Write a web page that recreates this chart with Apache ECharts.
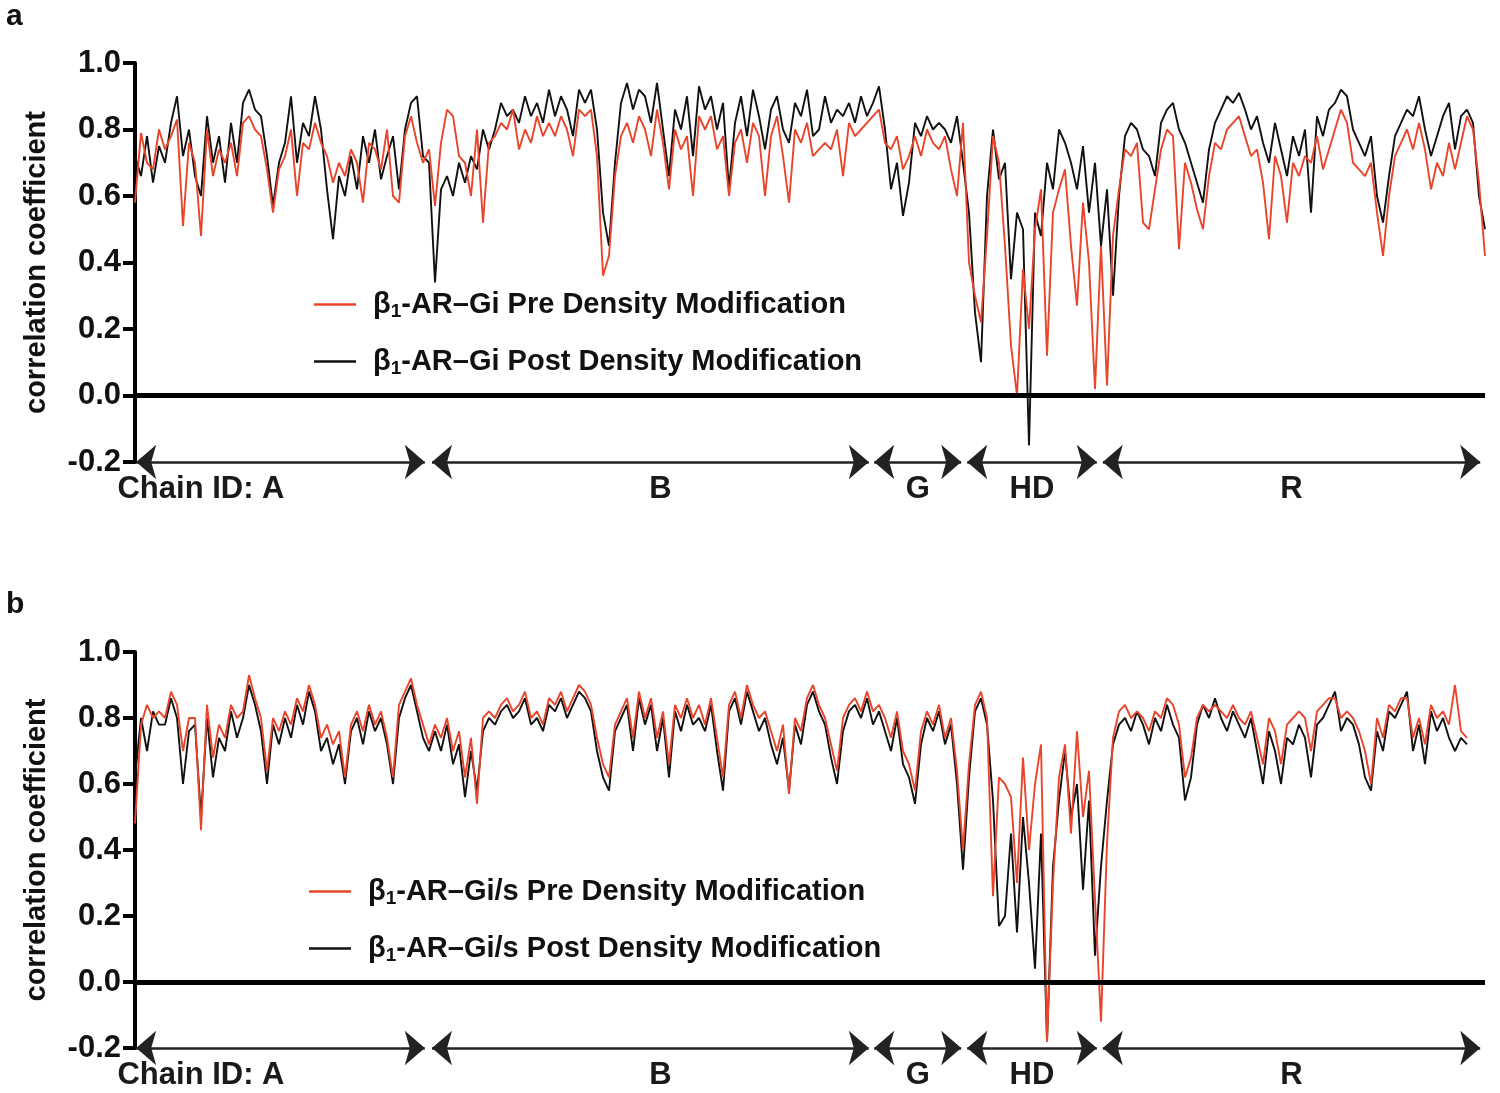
<!DOCTYPE html>
<html><head><meta charset="utf-8">
<script src="https://cdn.jsdelivr.net/npm/echarts@6/dist/echarts.min.js"></script>
<style>html,body{margin:0;padding:0;background:#fff}#c{width:1500px;height:1093px}</style>
</head><body><div id="c"></div>
<script>
// ---- data (residue index, sampled) ----
const seriesNamesA = ['β1-AR–Gi Pre Density Modification', 'β1-AR–Gi Post Density Modification'];
const seriesNamesB = ['β1-AR–Gi/s Pre Density Modification', 'β1-AR–Gi/s Post Density Modification'];

const preA = [
.58,.79,.70,.68,.80, .74,.78,.83,.51,.76, .70,.48,.80,.66,.74, .70,.76,.66,.82,.84,
.80,.78,.68,.55,.68, .72,.80,.60,.76,.74, .82,.76,.72,.64,.70, .66,.74,.70,.58,.76,
.74,.68,.80,.60,.58, .78,.84,.76,.70,.74, .57,.76,.86,.84,.72, .70,.60,.80,.52,.76,
.78,.82,.80,.86,.74, .80,.76,.84,.78,.82, .78,.84,.80,.72,.86, .84,.86,.72,.36,.42,
.66,.78,.82,.76,.84, .80,.72,.86,.76,.62, .80,.74,.78,.60,.84, .80,.84,.74,.78,.60,
.76,.80,.70,.82,.78, .60,.78,.84,.72,.58, .80,.76,.82,.72,.74, .76,.74,.80,.66,.82,
.78,.80,.82,.84,.86, .76,.74,.78,.68,.72, .78,.72,.80,.76,.74, .78,.68,.60,.82,.40,
.30,.22,.48,.78,.70, .45,.15,.00,.38,.20, .50,.62,.12,.55,.62, .68,.45,.27,.58,.40,
.02,.45,.03,.48,.62, .74,.72,.76,.52,.50, .62,.74,.80,.78,.44, .70,.64,.56,.50,.66,
.76,.74,.80,.82,.84, .78,.72,.74,.64,.47, .72,.66,.52,.70,.66, .72,.70,.78,.68,.74,
.80,.86,.82,.70,.68, .66,.70,.55,.42,.60, .72,.76,.80,.74,.82, .74,.62,.70,.66,.76,
.68,.76,.84,.80,.64, .42];

const postA = [
.72,.66,.78,.64,.75, .70,.82,.90,.72,.80, .66,.60,.84,.70,.78, .64,.82,.70,.88,.92,
.86,.84,.72,.57,.70, .76,.90,.70,.82,.78, .90,.80,.62,.47,.66, .60,.72,.62,.78,.70,
.80,.65,.72,.78,.62, .80,.88,.90,.72,.70, .34,.62,.66,.60,.70, .64,.72,.68,.80,.74,
.80,.88,.84,.86,.82, .90,.84,.88,.82,.92, .84,.90,.86,.78,.92, .88,.92,.80,.55,.45,
.70,.88,.94,.86,.92, .90,.82,.94,.80,.66, .86,.80,.90,.72,.93, .86,.90,.80,.88,.62,
.82,.90,.78,.92,.84, .74,.86,.90,.80,.76, .88,.84,.92,.78,.80, .90,.82,.86,.84,.88,
.82,.90,.84,.88,.93, .80,.62,.70,.54,.64, .82,.78,.84,.80,.82, .80,.76,.84,.70,.55,
.25,.10,.60,.80,.65, .70,.35,.55,.50,-.15, .55,.48,.70,.62,.80, .76,.70,.62,.75,.55,
.70,.45,.62,.30,.60, .78,.82,.80,.74,.72, .66,.82,.86,.88,.80, .76,.70,.64,.58,.74,
.82,.86,.90,.88,.91, .86,.80,.84,.76,.70, .82,.74,.66,.78,.72, .80,.55,.84,.78,.86,
.88,.92,.90,.80,.76, .72,.78,.60,.52,.66, .78,.82,.86,.84,.90, .80,.72,.78,.84,.88,
.74,.84,.86,.82,.60, .50];

const preB = [
.48,.78,.84,.80,.82, .80,.88,.84,.70,.80, .80,.46,.84,.68,.78, .74,.84,.80,.82,.93,
.86,.80,.64,.80,.76, .82,.78,.86,.82,.90, .84,.74,.78,.72,.76, .62,.78,.82,.76,.84,
.78,.82,.74,.62,.84, .88,.92,.84,.78,.72, .78,.74,.80,.70,.76, .62,.74,.54,.80,.82,
.80,.84,.86,.82,.84, .88,.80,.82,.78,.86, .84,.88,.82,.86,.90, .88,.84,.74,.66,.62,
.78,.82,.86,.74,.88, .80,.86,.74,.82,.66, .84,.80,.86,.80,.84, .78,.86,.74,.62,.84,
.88,.80,.90,.84,.80, .82,.76,.70,.78,.57, .80,.76,.86,.90,.84, .80,.72,.64,.80,.84,
.86,.82,.88,.82,.84, .80,.74,.82,.70,.66, .58,.76,.82,.78,.84, .74,.80,.64,.40,.66,
.84,.88,.80,.26,.62, .60,.56,.30,.68,.40, .60,.72,-.18,.30,.62, .72,.45,.76,.50,.64,
.25,-.12,.42,.74,.82, .84,.80,.82,.80,.76, .82,.80,.86,.84,.78, .62,.68,.80,.84,.82,
.84,.82,.80,.84,.80, .78,.82,.74,.66,.80, .76,.66,.78,.80,.82, .80,.70,.82,.84,.86,
.86,.80,.82,.80,.76, .70,.60,.80,.74,.84, .82,.86,.86,.74,.80, .72,.84,.80,.82,.78,
.90,.76,.74];

const postB = [
.62,.80,.70,.82,.78, .78,.86,.80,.60,.76, .78,.50,.80,.62,.74, .70,.82,.74,.80,.90,
.84,.76,.60,.78,.72, .80,.74,.84,.78,.88, .82,.70,.74,.66,.72, .60,.76,.80,.72,.82,
.76,.80,.72,.60,.80, .86,.90,.82,.74,.70, .76,.70,.78,.66,.72, .56,.70,.58,.76,.80,
.78,.82,.84,.80,.82, .86,.78,.80,.76,.84, .82,.86,.80,.84,.88, .86,.82,.70,.62,.58,
.76,.80,.84,.70,.86, .78,.84,.70,.80,.62, .82,.76,.84,.78,.80, .76,.84,.70,.58,.82,
.86,.78,.88,.82,.76, .80,.72,.66,.74,.58, .78,.72,.84,.88,.82, .78,.68,.60,.76,.82,
.84,.80,.86,.78,.82, .76,.70,.80,.66,.62, .54,.72,.80,.76,.82, .72,.78,.60,.34,.62,
.82,.86,.78,.55,.17, .20,.45,.15,.50,.30, .04,.45,-.18,.35,.55, .70,.50,.60,.28,.55,
.08,.35,.55,.72,.78, .80,.76,.82,.78,.72, .80,.76,.84,.78,.74, .55,.62,.78,.84,.80,
.86,.80,.76,.82,.78, .74,.80,.70,.60,.76, .70,.60,.74,.72,.78, .74,.62,.78,.80,.84,
.88,.76,.80,.78,.72, .62,.58,.76,.70,.82, .80,.84,.88,.70,.78, .66,.82,.76,.80,.74,
.70,.74,.72];

const chainNames  = ['Chain ID: A', 'B', 'G', 'HD', 'R'];
const chainStart  = [0.2, 49.5, 123.2, 138.7, 161.3];
const chainEnd    = [48.3, 122.3, 137.7, 160.3, 224.2];
const yTicks = [-0.2, 0.0, 0.2, 0.4, 0.6, 0.8, 1.0];

// ---- chart ----
const RED = '#e8452b', BLK = '#111111';
const FONT = '"Liberation Sans", Arial, Helvetica, sans-serif';
const chart = echarts.init(document.getElementById('c'), null, {renderer: 'canvas'});

const toPts = arr => arr.map((v, i) => [i, v]);
const arrowLines = chainStart.map((s, k) => [
  {coord: [s, -0.2]}, {coord: [chainEnd[k], -0.2]}
]);
const labelPts = chainNames.map((n, k) => {
  const mid = (chainStart[k] + chainEnd[k]) / 2;
  const item = {name: n, value: [mid, -0.2]};
  if (k === 0) item.label = {align: 'right', offset: [4, 0]};
  if (k === 1) item.label = {offset: [10, 0]};
  return item;
});

function legendFmt(name) {
  const rest = name.replace('β1', '');
  return '{n|β}{s|1}{n|' + rest + '}';
}
const legendRich = {
  n: {fontSize: 29, fontWeight: 'bold', fontFamily: FONT, color: '#111', lineHeight: 34},
  s: {fontSize: 19, fontWeight: 'bold', fontFamily: FONT, color: '#111', padding: [14, 0, 0, 0], lineHeight: 34}
};

function yAxisFor(gi) {
  return {
    gridIndex: gi, type: 'value', min: -0.2, max: 1.0, interval: 0.2,
    name: 'correlation coefficient', nameLocation: 'middle', nameGap: 84,
    nameTextStyle: {fontSize: 29, fontWeight: 'bold', fontFamily: FONT, color: '#111'},
    axisLine: {show: true, lineStyle: {color: '#000', width: 4}},
    axisTick: {show: true, length: 12, lineStyle: {color: '#000', width: 4}},
    axisLabel: {fontSize: 31, fontWeight: 'bold', fontFamily: FONT, color: '#111', margin: 14,
      formatter: v => (Math.abs(v) < 1e-9 ? 0 : v).toFixed(1)},
    splitLine: {show: false}
  };
}
function xAxisFor(gi) {
  return {gridIndex: gi, type: 'value', min: 0, max: 225, show: false};
}
function panelSeries(gi, names, pre, post) {
  return [
    {name: names[1], type: 'line', xAxisIndex: gi, yAxisIndex: gi, data: toPts(post),
     showSymbol: false, symbol: 'none', lineStyle: {color: BLK, width: 1.9}, itemStyle: {color: BLK},
     z: 3,
     markLine: {silent: true, symbol: ['arrow', 'arrow'], symbolSize: [26, 20], animation: false,
       label: {show: false}, lineStyle: {color: '#222', width: 2.5, type: 'solid'}, data: arrowLines}},
    {name: names[0], type: 'line', xAxisIndex: gi, yAxisIndex: gi, data: toPts(pre),
     showSymbol: false, symbol: 'none', lineStyle: {color: RED, width: 1.9}, itemStyle: {color: RED},
     z: 4,
     markLine: {silent: true, symbol: ['none', 'none'], animation: false, label: {show: false},
       lineStyle: {color: '#000', width: 5, type: 'solid'}, data: [{yAxis: 0}]}},
    {type: 'scatter', xAxisIndex: gi, yAxisIndex: gi, data: labelPts, symbolSize: 0, silent: true,
     itemStyle: {opacity: 1},
     label: {show: true, position: 'bottom', distance: 12, formatter: p => p.name,
       fontSize: 31, fontWeight: 'bold', fontFamily: FONT, color: '#1a1a1a'}}
  ];
}

chart.setOption({
  animation: false,
  backgroundColor: '#fff',
  grid: [
    {left: 135, top: 63, width: 1350, height: 399},
    {left: 135, top: 652, width: 1350, height: 396}
  ],
  xAxis: [xAxisFor(0), xAxisFor(1)],
  yAxis: [yAxisFor(0), yAxisFor(1)],
  legend: [
    {data: seriesNamesA, orient: 'vertical', left: 309, top: 283, itemGap: 24, itemWidth: 42, itemHeight: 2.5,
     icon: 'rect', selectedMode: false, formatter: legendFmt,
     textStyle: {rich: legendRich, padding: [0, 0, 0, 12]}},
    {data: seriesNamesB, orient: 'vertical', left: 304, top: 870, itemGap: 24, itemWidth: 42, itemHeight: 2.5,
     icon: 'rect', selectedMode: false, formatter: legendFmt,
     textStyle: {rich: legendRich, padding: [0, 0, 0, 12]}}
  ],
  graphic: [
    {type: 'text', left: 6, top: 2, style: {text: 'a', font: 'bold 30px ' + FONT, fill: '#111'}},
    {type: 'text', left: 6, top: 590, style: {text: 'b', font: 'bold 30px ' + FONT, fill: '#111'}}
  ],
  series: [
    ...panelSeries(0, seriesNamesA, preA, postA),
    ...panelSeries(1, seriesNamesB, preB, postB)
  ]
});
</script>
</body></html>
